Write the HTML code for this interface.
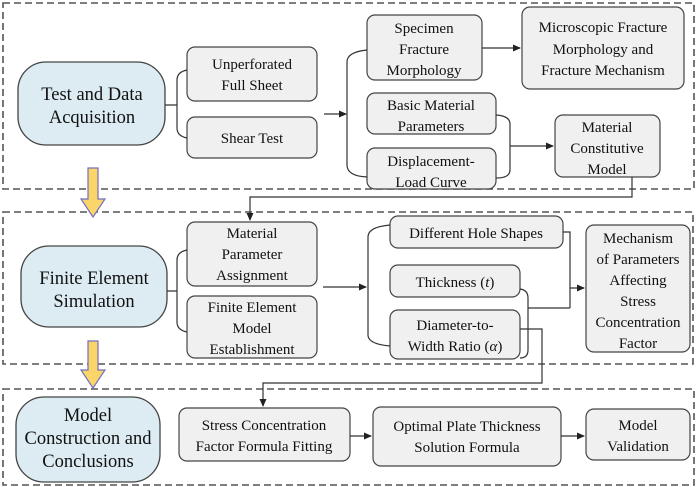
<!DOCTYPE html>
<html><head><meta charset="utf-8"><style>
body{margin:0;background:#fff;}
svg{display:block;}
svg text{font-family:"Liberation Serif","DejaVu Serif",serif;}
</style></head><body>
<svg width="699" height="487" viewBox="0 0 699 487" xmlns="http://www.w3.org/2000/svg">
<defs>
<marker id="a" markerWidth="8" markerHeight="8" refX="7" refY="4" orient="auto" markerUnits="userSpaceOnUse"><path d="M0,0.5 L8,4 L0,7.5Z" fill="#222"/></marker>
</defs>
<g fill="none" stroke="#555" stroke-width="1.6" stroke-dasharray="7,4">
<rect x="3" y="3" width="691" height="186"/>
<rect x="3" y="212" width="690" height="152"/>
<rect x="3" y="389" width="691" height="96"/>
</g>
<g fill="#fcd56a" stroke="#7070c0" stroke-width="1.2">
<path d="M88,168 H98 V199 H105 L93,217 L81,199 H88Z"/>
<path d="M88,341 H98 V370 H105 L93,388 L81,370 H88Z"/>
</g>
<g fill="#dcecf2" stroke="#444" stroke-width="1.3">
<rect x="18" y="62" width="147" height="83" rx="28"/>
<rect x="21" y="246" width="146" height="81" rx="28"/>
<rect x="16" y="397" width="144" height="85" rx="28"/>
</g>
<g fill="#f0f0f0" stroke="#444" stroke-width="1.2">
<rect x="187" y="47" width="130" height="54" rx="8"/>
<rect x="187" y="117" width="130" height="41" rx="8"/>
<rect x="367" y="15" width="115" height="65" rx="8"/>
<rect x="522" y="7" width="162" height="82" rx="8"/>
<rect x="367" y="93" width="129" height="41" rx="8"/>
<rect x="367" y="148" width="129" height="41" rx="8"/>
<rect x="555" y="115" width="105" height="62" rx="8"/>
<rect x="187" y="222" width="130" height="64" rx="8"/>
<rect x="187" y="296" width="130" height="62" rx="8"/>
<rect x="390" y="216" width="173" height="32" rx="8"/>
<rect x="390" y="265" width="130" height="32" rx="8"/>
<rect x="390" y="310" width="130" height="49" rx="8"/>
<rect x="586" y="225" width="104" height="127" rx="8"/>
<rect x="179" y="408" width="171" height="53" rx="8"/>
<rect x="373" y="407" width="188" height="59" rx="8"/>
<rect x="586" y="409" width="104" height="51" rx="8"/>
</g>
<g fill="none" stroke="#333" stroke-width="1.2">
<path d="M165,105 H177 M187,70 Q177,72 177,80 V128 Q177,136 187,138"/>
<path d="M324,114 H346" marker-end="url(#a)"/>
<path d="M367,50 Q347,52 347,62 V165 Q347,176 367,177"/>
<path d="M482,48 H520" marker-end="url(#a)"/>
<path d="M496,115 Q510,116 510,124 V170 Q510,178 496,178 M510,146 H553" marker-end="url(#a)"/>
<path d="M632,177 V197 H250 V220" marker-end="url(#a)"/>
<path d="M167,291 H177 M187,250 Q177,252 177,260 V322 Q177,330 187,332"/>
<path d="M323,287 H366" marker-end="url(#a)"/>
<path d="M390,225 Q368,227 368,237 V335 Q368,344 390,346"/>
<path d="M563,232 H570 V308 M570,288 H584" marker-end="url(#a)"/>
<path d="M520,289 Q528,290 528,298 V350 Q528,358 520,358 M528,308 H570"/>
<path d="M520,329 H542 V383 H263 V406" marker-end="url(#a)"/>
<path d="M350,436 H371" marker-end="url(#a)"/>
<path d="M561,436 H584" marker-end="url(#a)"/>
</g>
<g fill="#111" text-anchor="middle" font-size="18.5">
<text x="92" y="100">Test and Data</text><text x="92" y="123">Acquisition</text>
<text x="94" y="284">Finite Element</text><text x="94" y="307">Simulation</text>
<text x="88" y="421">Model</text><text x="88" y="444">Construction and</text><text x="88" y="467">Conclusions</text>
</g>
<g fill="#111" text-anchor="middle" font-size="15">
<text x="252" y="69">Unperforated</text><text x="252" y="90">Full Sheet</text>
<text x="252" y="143">Shear Test</text>
<text x="424" y="33">Specimen</text><text x="424" y="54">Fracture</text><text x="424" y="75">Morphology</text>
<text x="603" y="32">Microscopic Fracture</text><text x="603" y="54">Morphology and</text><text x="603" y="75">Fracture Mechanism</text>
<text x="431" y="110">Basic Material</text><text x="431" y="131">Parameters</text>
<text x="431" y="166">Displacement-</text><text x="431" y="187">Load Curve</text>
<text x="607" y="132">Material</text><text x="607" y="153">Constitutive</text><text x="607" y="174">Model</text>
<text x="252" y="238">Material</text><text x="252" y="259">Parameter</text><text x="252" y="280">Assignment</text>
<text x="252" y="312">Finite Element</text><text x="252" y="333">Model</text><text x="252" y="354">Establishment</text>
<text x="476" y="238">Different Hole Shapes</text>
<text x="455" y="287">Thickness (<tspan font-style="italic">t</tspan>)</text>
<text x="455" y="330">Diameter-to-</text><text x="455" y="351">Width Ratio (<tspan font-style="italic">α</tspan>)</text>
<text x="638" y="243">Mechanism</text><text x="638" y="264">of Parameters</text><text x="638" y="285">Affecting</text><text x="638" y="306">Stress</text><text x="638" y="327">Concentration</text><text x="638" y="348">Factor</text>
<text x="264" y="430">Stress Concentration</text><text x="264" y="451">Factor Formula Fitting</text>
<text x="467" y="431">Optimal Plate Thickness</text><text x="467" y="452">Solution Formula</text>
<text x="638" y="430">Model</text><text x="638" y="451">Validation</text>
</g>
</svg>
</body></html>
